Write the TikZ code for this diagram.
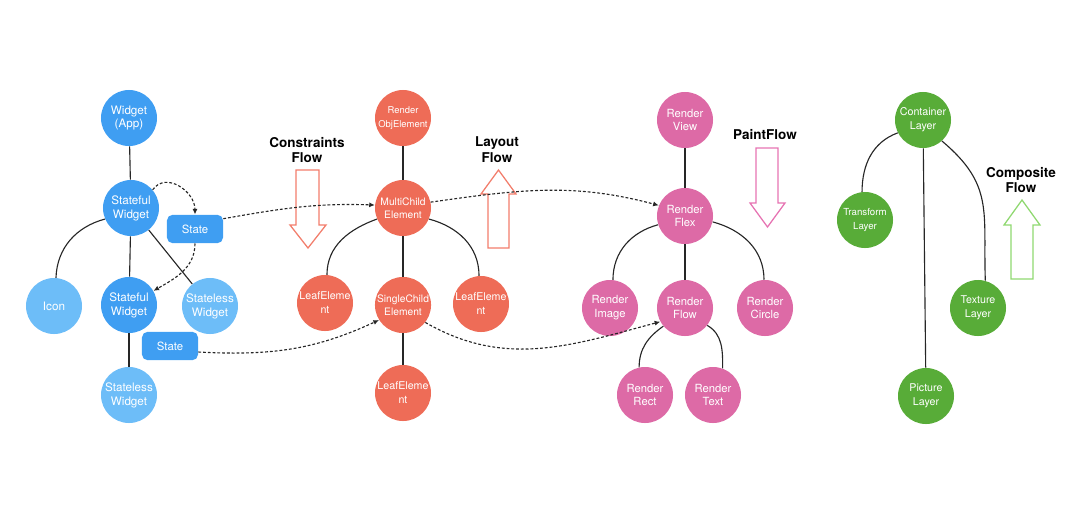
\documentclass[tikz,border=0pt]{standalone}
\usepackage{fontspec}
\setmainfont{TeX Gyre Heros}
\usetikzlibrary{arrows.meta}
\definecolor{wdark}{HTML}{3F9EF2}
\definecolor{wlight}{HTML}{6DBDF8}
\definecolor{elemred}{HTML}{EE6C57}
\definecolor{renderpink}{HTML}{DD6AA6}
\definecolor{layergreen}{HTML}{58AC38}
\definecolor{redline}{HTML}{F27D6B}
\definecolor{pinkline}{HTML}{E673B2}
\definecolor{greenline}{HTML}{8FD870}
\begin{document}
\begin{tikzpicture}[x=0.025cm,y=0.025cm,
    circ/.style={circle,minimum size=1.4cm,inner sep=0pt,text=white,align=center,font=\fontsize{8.3}{9.9}\selectfont},
    widget/.style={circ,fill=wdark},
    lwidget/.style={circ,fill=wlight},
    statebox/.style={rectangle,rounded corners=4pt,fill=wdark,text=white,minimum width=1.4cm,minimum height=0.71cm,inner sep=0pt,font=\fontsize{8.1}{9.9}\selectfont},
    element/.style={circ,fill=elemred,font=\fontsize{7.3}{9.6}\selectfont},
    render/.style={circ,fill=renderpink,font=\fontsize{8}{9.9}\selectfont},
    layer/.style={circ,fill=layergreen,font=\fontsize{7.6}{9.9}\selectfont},
    edge/.style={draw=black!85,line width=0.8pt},
    statearrow/.style={draw=black!85,line width=0.8pt,dash pattern=on 2pt off 1.4pt,-{Latex[length=4pt,width=3.6pt]}},
    flowlabel/.style={align=center,font=\bfseries\fontsize{9.6}{11.3}\selectfont}]
    \useasboundingbox (0,0) rectangle (1080,-508);

    % widgets
    \node[widget] (app) at (129,-118){Widget\\(App)};
    \node[widget] (sw1) at (131,-208){Stateful\\Widget};
    \node[statebox] (st1) at (195,-229){State};
    \node[lwidget] (icon) at (54,-306){Icon};
    \node[widget] (sw2) at (129,-305){Stateful\\Widget};
    \node[lwidget] (sl1) at (210,-306){Stateless\\Widget};
    \node[statebox] (st2) at (170,-346){State};
    \node[lwidget] (sl2) at (129,-395){Stateless\\Widget};

    % elements
    \node[element,font=\fontsize{6.7}{9.6}\selectfont] (robj) at (403,-118){Render\\ObjElement};
    \node[element] (mc) at (403,-208){MultiChild\\Element};
    \node[element,font=\fontsize{7.6}{9.9}\selectfont] (leafl) at (325,-303){LeafEleme\\nt};
    \node[element] (sc) at (403,-305){SingleChild\\Element};
    \node[element,font=\fontsize{7.6}{9.9}\selectfont] (leafr) at (481,-304){LeafEleme\\nt};
    \node[element,font=\fontsize{7.6}{9.9}\selectfont] (leafb) at (403,-393){LeafEleme\\nt};

    % render objects
    \node[render] (rview) at (685,-120){Render\\View};
    \node[render] (rflex) at (685,-216){Render\\Flex};
    \node[render] (rimage) at (610,-308){Render\\Image};
    \node[render] (rflow) at (685,-308){Render\\Flow};
    \node[render] (rcircle) at (765,-308){Render\\Circle};
    \node[render] (rrect) at (645,-395){Render\\Rect};
    \node[render] (rtext) at (713,-395){Render\\Text};

    % layers
    \node[layer] (cont) at (923,-120){Container\\Layer};
    \node[layer,font=\fontsize{6.9}{9.9}\selectfont] (trans) at (865,-220){Transform\\Layer};
    \node[layer] (texture) at (978,-308){Texture\\Layer};
    \node[layer] (pic) at (926,-396){Picture\\Layer};

    \node[flowlabel] (cflow) at (307,-150){Constraints\\Flow};
    \node[flowlabel] (lflow) at (497,-150){Layout\\Flow};
    \node[flowlabel] (pflow) at (765,-135){PaintFlow};
    \node[flowlabel] (compflow) at (1021,-180){Composite\\Flow};

    \draw[redline,line width=0.9pt] (296,-170) -- (319,-170) -- (319,-225) -- (326,-225) -- (308,-248) -- (290,-225) -- (296,-225) -- cycle;
    \draw[redline,line width=0.9pt] (488,-248) -- (509,-248) -- (509,-194) -- (516,-194) -- (498.5,-170) -- (481,-194) -- (488,-194) -- cycle;
    \draw[pinkline,line width=0.9pt] (756,-148) -- (778,-148) -- (778,-203) -- (785,-203) -- (767.5,-227) -- (750,-203) -- (756,-203) -- cycle;
    \draw[greenline,line width=0.9pt] (1011,-279) -- (1033,-279) -- (1033,-225) -- (1040,-225) -- (1022,-200) -- (1004,-225) -- (1011,-225) -- cycle;

    \draw[edge] (app) -- (sw1);
    \draw[edge] (sw1.203) to[out=195,in=88] (icon.86);
    \draw[edge] (sw1) -- (sw2);
    \draw[edge] (sw1) -- (sl1);
    \draw[edge] (sw2) -- (sl2);

    \draw[edge] (robj) -- (mc);
    \draw[edge] (mc.203) to[out=200,in=90] (leafl.86);
    \draw[edge] (mc) -- (sc);
    \draw[edge] (mc.-23) to[out=-15,in=90] (leafr.94);
    \draw[edge] (sc) -- (leafb);

    \draw[edge] (rview) -- (rflex);
    \draw[edge] (rflex.198) to[out=195,in=90] (rimage.84);
    \draw[edge] (rflex) -- (rflow);
    \draw[edge] (rflex.-12) to[out=-15,in=90] (rcircle.92);
    \draw[edge] (rflow.220) to[out=215,in=90] (rrect.102);
    \draw[edge] (rflow.-38) to[out=-30,in=90] (rtext.70);

    \draw[edge] (cont.207) to[out=200,in=90] (trans.96);
    \draw[edge] (cont) -- (pic);
    \draw[edge] (cont.-48) to[out=-40,in=92,looseness=1.2] (texture.75);

    \draw[statearrow] (sw1.40) to[out=55,in=90,looseness=1.2] (st1.north);
    \draw[statearrow] (st1.south) to[out=-90,in=30] (sw2.30);
    \draw[statearrow] (st1.20) to[out=10,in=178] (mc.174);
    \draw[statearrow] (st2.-12) to[out=-3,in=205] (sc.212);
    \draw[statearrow] (mc.12) to[out=8,in=165] (rflex.158);
    \draw[statearrow] (sc.-38) to[out=-30,in=195] (rflow.209);
\end{tikzpicture}
\end{document}
